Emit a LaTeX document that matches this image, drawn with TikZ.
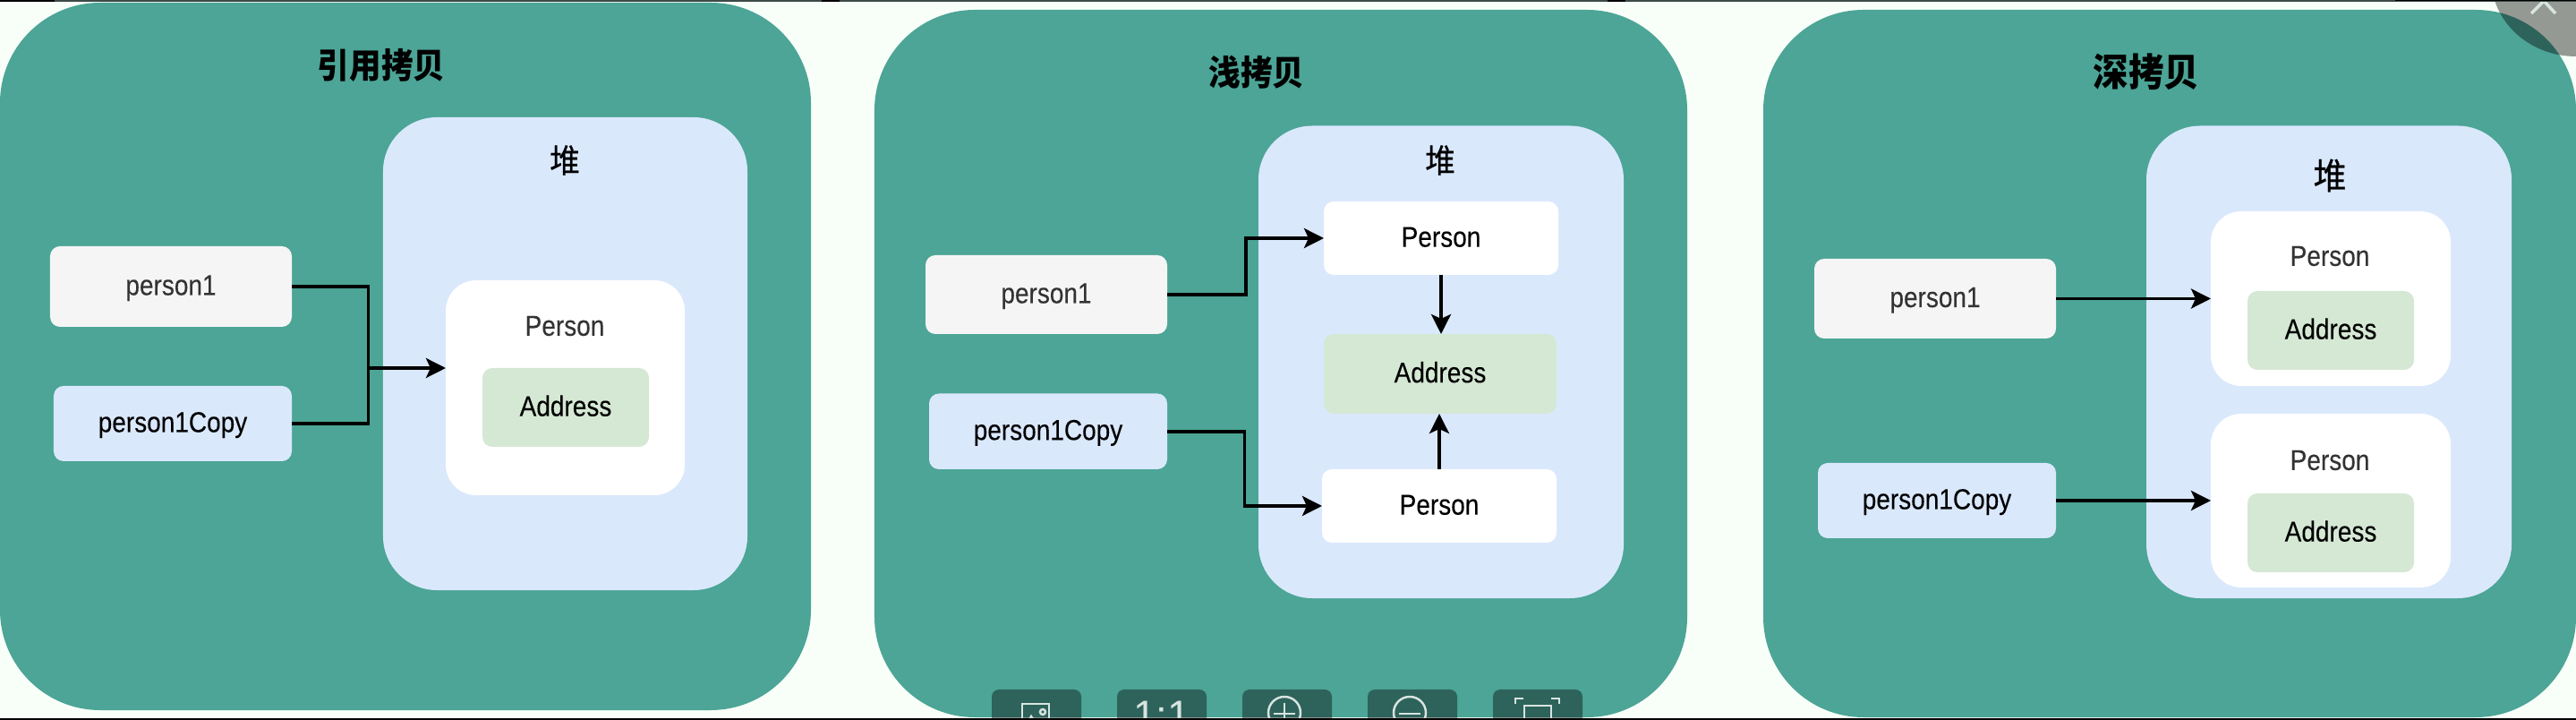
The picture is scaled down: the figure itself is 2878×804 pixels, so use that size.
\documentclass[tikz,border=0pt]{standalone}
\usepackage{fontspec}
\usetikzlibrary{arrows.meta}
\setmainfont[FakeStretch=0.875,FakeBold=0.12]{Liberation Sans}
\newfontfamily\plainf{Liberation Sans}
\newfontfamily\cjkf[FakeStretch=0.92]{Noto Sans CJK SC}
\newfontfamily\cjkm[FakeStretch=0.92,FakeBold=0.5]{Noto Sans CJK SC}
\definecolor{pagebg}{HTML}{F8FFF8}
\definecolor{teal}{HTML}{4CA596}
\definecolor{heapblue}{HTML}{DAE8FC}
\definecolor{stackgrey}{HTML}{F5F5F5}
\definecolor{addrgreen}{HTML}{D5E8D4}
\definecolor{txtgrey}{HTML}{333333}
\definecolor{icon}{HTML}{D8E4E0}
\definecolor{topstrip}{HTML}{3D4A47}
% \rbx{name}{x1}{y1}{x2}{y2}{style}{text}
\newcommand{\rbx}[7]{%
  \pgfmathsetmacro{\bw}{(#4-#2)*0.01}%
  \pgfmathsetmacro{\bh}{(#5-#3)*0.01}%
  \node[#6,minimum width=\bw cm,minimum height=\bh cm] (#1) at ({(#2+#4)/2},{(#3+#5)/2}) {#7};}
\tikzset{
  x=0.01cm,y=-0.01cm,
  base/.style={inner sep=0pt,outer sep=0pt,font=\fontsize{9.1pt}{11pt}\selectfont},
  panel/.style={base,fill=teal,rounded corners=1.12cm},
  heap/.style={base,fill=heapblue,rounded corners=0.6cm},
  holder/.style={base,fill=white,rounded corners=0.34cm},
  pbox/.style={base,fill=white,rounded corners=0.11cm,text=black,text height=7.5pt,text depth=2pt},
  addr/.style={base,fill=addrgreen,rounded corners=0.11cm,text=black,text height=7.5pt,text depth=2pt},
  var1/.style={base,fill=stackgrey,rounded corners=0.11cm,text=txtgrey,text height=7.4pt,text depth=2pt},
  var2/.style={base,fill=heapblue,rounded corners=0.11cm,text=black,text height=7.4pt,text depth=2pt},
  lab/.style={base,text=txtgrey},
  ttl/.style={inner sep=0pt,font=\cjkf\bfseries\fontsize{11pt}{13pt}\selectfont,text=black},
  heapttl/.style={inner sep=0pt,font=\cjkm\fontsize{10.4pt}{12pt}\selectfont,text=black},
  conn/.style={line width=1.05pt,black},
  arr/.style={conn,-{Stealth[length=0.22cm,width=0.22cm,inset=0.05cm]}},
  btn/.style={inner sep=0pt,outer sep=0pt,fill=black,fill opacity=0.4,rounded corners=0.08cm},
  ico/.style={icon,line width=0.7pt},
}
\begin{document}
\begin{tikzpicture}
\useasboundingbox (0,0) rectangle (2878,804);
\fill[pagebg] (0,0) rectangle (2878,804);

% ---- panel 1
\rbx{pa}{0}{3}{906}{793}{panel}{}
\node[ttl] (ta) at (426,73) {引用拷贝};
\rbx{ha}{428}{131}{835}{659}{heap}{}
\node[heapttl] (ha t) at (631,179) {堆};
\rbx{va}{56}{275}{326}{365}{var1}{person1}
\rbx{vb}{60}{431}{326}{515}{var2}{person1Copy}
\rbx{oa}{498}{313}{765}{553}{holder}{}
\node[lab] (oa t) at (631,364) {Person};
\rbx{ada}{539}{411}{725}{499}{addr}{Address}
\coordinate (ja) at (411.5,411);
\draw[conn] (va.east) -| (ja);
\draw[conn] (vb.east) -| (ja);
\draw[arr] (ja) -- (ja -| oa.west);

% ---- panel 2
\rbx{pb}{977}{11}{1885}{801}{panel}{}
\node[ttl,font=\cjkf\bfseries\fontsize{11pt}{13pt}\selectfont] (tb) at (1404,81) {浅拷贝};
\rbx{hb}{1406}{140.5}{1814}{668}{heap}{}
\node[heapttl] (hb t) at (1609,179) {堆};
\rbx{vc}{1034}{285}{1304}{373}{var1}{person1}
\rbx{vd}{1038}{439.5}{1304}{524}{var2}{person1Copy}
\rbx{oc}{1479}{225}{1741}{307}{pbox}{Person}
\rbx{adb}{1479}{373}{1739}{462}{addr}{Address}
\rbx{od}{1477}{524}{1739}{606}{pbox}{Person}
\coordinate (jc) at (1392,300);
\coordinate (jd) at (1390.5,500);
\draw[arr] (vc.east) -- (vc.east -| jc) |- (oc.west);
\draw[arr] (vd.east) -- (vd.east -| jd) |- (od.west);
\draw[arr] (oc.south) -- (oc.south |- adb.north);
\draw[arr] (od.north) -- (od.north |- adb.south);

% ---- panel 3
\rbx{pc}{1970}{11}{2878}{801}{panel}{}
\node[ttl,font=\cjkf\bfseries\fontsize{12.2pt}{14pt}\selectfont] (tc) at (2398,80.5) {深拷贝};
\rbx{hc}{2398}{140.5}{2806}{668}{heap}{}
\node[heapttl,font=\cjkm\fontsize{11.4pt}{13pt}\selectfont] (hc t) at (2603,196) {堆};
\rbx{ve}{2027}{289}{2297}{378}{var1}{person1}
\rbx{vf}{2031}{517}{2297}{601}{var2}{person1Copy}
\rbx{oe}{2470}{236}{2738}{431}{holder}{}
\node[lab] (oe t) at (2603,286) {Person};
\rbx{adc}{2511}{325}{2697}{413}{addr}{Address}
\rbx{of}{2470}{462}{2738}{656}{holder}{}
\node[lab] (of t) at (2603,514) {Person};
\rbx{add}{2511}{551}{2697}{639}{addr}{Address}
\draw[arr] (ve.east) -- (ve.east -| oe.west);
\draw[arr] (vf.east) -- (vf.east -| of.west);

% ---- viewer toolbar
\rbx{ba}{1108}{770}{1208}{830}{btn}{}
\rbx{bb}{1248}{770}{1348}{830}{btn}{}
\rbx{bc}{1388}{770}{1488}{830}{btn}{}
\rbx{bd}{1528}{770}{1628}{830}{btn}{}
\rbx{be}{1668}{770}{1768}{830}{btn}{}
\draw[ico] (1142,815) -- (1142,786) -- (1172,786) -- (1172,815);
\draw[ico] (1165,795) circle (3);
\draw[ico] (1146,812) -- (1152,800) -- (1160,812);
\node[anchor=base,inner sep=0pt,text=icon,font=\plainf\fontsize{13pt}{15pt}\selectfont] (one) at (1298,815) {1:1};
\draw[ico] (1435,796) circle (18);
\draw[ico] (1423,797) -- (1447,797) (1435,785) -- (1435,809);
\draw[ico] (1575,796) circle (18);
\draw[ico] (1563,797) -- (1587,797);
\draw[ico] (1693,786) -- (1693,780) -- (1702,780) (1733,780) -- (1742,780) -- (1742,786);
\draw[ico] (1703,815) -- (1703,788) -- (1733,788) -- (1733,815);

% ---- close button
\fill[black,fill opacity=0.4] (2878,-25) ellipse (95 and 88);
\draw[icon,line width=1pt] (2828,15) -- (2842,1) -- (2855,15);

% ---- window edge strips
\fill[topstrip] (0,0) rectangle (2878,2);
\fill[black] (0,0) rectangle (61,2);
\fill[black] (918,0) rectangle (938,2);
\fill[black] (1796,0) rectangle (1816,2);
\fill[black] (2676,0) rectangle (2878,1.5);
\fill[black] (0,802) rectangle (2878,804);
\end{tikzpicture}
\end{document}
